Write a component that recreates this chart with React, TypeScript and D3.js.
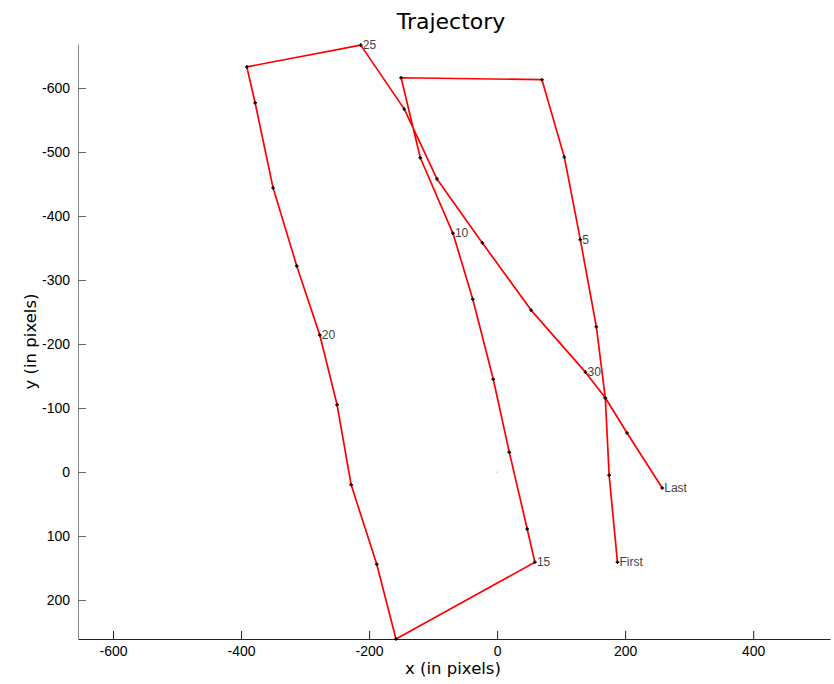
import React, { useEffect, useRef } from "react";
import * as d3 from "d3";

// trajectory points (x, y in pixels)
const xs = [188, 175, 169, 155, 130, 105, 70, -150, -120, -69, -38, -6, 19, 47, 59, -158, -188, -228, -250, -277, -313, -350, -378, -391, -213, -145, -94, -23, 53, 138, 169, 203, 258];
const ys = [141, 5, -116, -227, -363, -492, -613, -616, -491, -373, -270, -145, -31, 89, 141, 261, 144, 20, -105, -214, -322, -444, -577, -633, -667, -567, -458, -358, -253, -156, -116, -61, 25];
const pointLabels: { [k: number]: string } = { 0: "First", 4: "5", 9: "10", 14: "15", 19: "20", 24: "25", 29: "30", 32: "Last" };
const xTicks = [-600, -400, -200, 0, 200, 400];
const yTicks = [-600, -500, -400, -300, -200, -100, 0, 100, 200];

const App = () => {
  const ref = useRef<SVGSVGElement>(null);

  useEffect(() => {
    const width = 834;
    const height = 684;
    const left = 78;
    const right = 830;
    const top = 44;
    const bottom = 639;

    const x = d3.scaleLinear().domain([-654.7, 520]).range([left, right]);
    const y = d3.scaleLinear().domain([-668.75, 260.9]).range([top, bottom]);

    const svg = d3
      .select(ref.current)
      .attr("width", width)
      .attr("height", height)
      .style("font-family", "'Liberation Sans', Arial, sans-serif");

    svg.selectAll("*").remove();

    // axes (plain hyphen minus, like the original)
    const fmt = (d: d3.NumberValue) => String(d);

    const gx = svg
      .append("g")
      .attr("transform", `translate(0,${bottom})`)
      .call(d3.axisBottom(x).tickValues(xTicks).tickFormat(fmt).tickSizeInner(-8).tickSizeOuter(0).tickPadding(7));
    gx.select(".domain").attr("stroke", "#222");
    gx.selectAll(".tick line").attr("stroke", "#222");
    gx.selectAll(".tick text").attr("font-size", 14).attr("fill", "#000").attr("dy", "0.71em");

    const gy = svg
      .append("g")
      .attr("transform", `translate(${left},0)`)
      .call(
        d3
          .axisLeft(y)
          .tickValues(yTicks)
          .tickFormat(fmt)
          .tickSizeInner(-8)
          .tickSizeOuter(0)
          .tickPadding(8)
      );
    gy.select(".domain").attr("stroke", "#888");
    gy.selectAll(".tick line").attr("stroke", "#666");
    gy.selectAll(".tick text").attr("font-size", 14).attr("fill", "#000");

    // little origin dot
    svg
      .append("circle")
      .attr("cx", x(0))
      .attr("cy", y(0))
      .attr("r", 0.6)
      .attr("fill", "#999");

    const pts: [number, number][] = xs.map((v, i) => [v, ys[i]]);

    const line = d3
      .line<[number, number]>()
      .x((d) => x(d[0]))
      .y((d) => y(d[1]));

    svg
      .append("path")
      .datum(pts)
      .attr("fill", "none")
      .attr("stroke", "#ff0000")
      .attr("stroke-width", 1.7)
      .attr("stroke-linejoin", "round")
      .attr("d", line);

    // markers
    svg
      .append("g")
      .selectAll("path")
      .data(pts)
      .join("path")
      .attr("transform", (d) => `translate(${x(d[0])},${y(d[1])})`)
      .attr("d", "M-1.8,0H1.8M0,-1.8V1.8")
      .attr("stroke", "#000")
      .attr("stroke-width", 1.4);

    // point labels
    svg
      .append("g")
      .selectAll("text")
      .data(pts.map((d, i) => ({ d, i })).filter((p) => pointLabels[p.i] !== undefined))
      .join("text")
      .attr("x", (p) => x(p.d[0]) + 2)
      .attr("y", (p) => y(p.d[1]))
      .attr("dy", "0.35em")
      .attr("font-size", 12)
      .attr("fill", "#444")
      .text((p) => pointLabels[p.i]);

    // titles
    svg
      .append("text")
      .attr("x", 451)
      .attr("y", 29)
      .attr("text-anchor", "middle")
      .attr("font-family", "'DejaVu Sans', sans-serif")
      .attr("font-size", 22)
      .text("Trajectory");

    svg
      .append("text")
      .attr("x", 453)
      .attr("y", 674)
      .attr("text-anchor", "middle")
      .attr("font-family", "'DejaVu Sans', sans-serif")
      .attr("font-size", 16.5)
      .text("x (in pixels)");

    svg
      .append("text")
      .attr("transform", `translate(36,${(top + bottom) / 2}) rotate(-90)`)
      .attr("text-anchor", "middle")
      .attr("font-family", "'DejaVu Sans', sans-serif")
      .attr("font-size", 16.5)
      .text("y (in pixels)");
  }, []);

  return (
    <div style={{ position: "absolute", left: 0, top: 0 }}>
      <svg ref={ref}></svg>
    </div>
  );
};

export default App;
